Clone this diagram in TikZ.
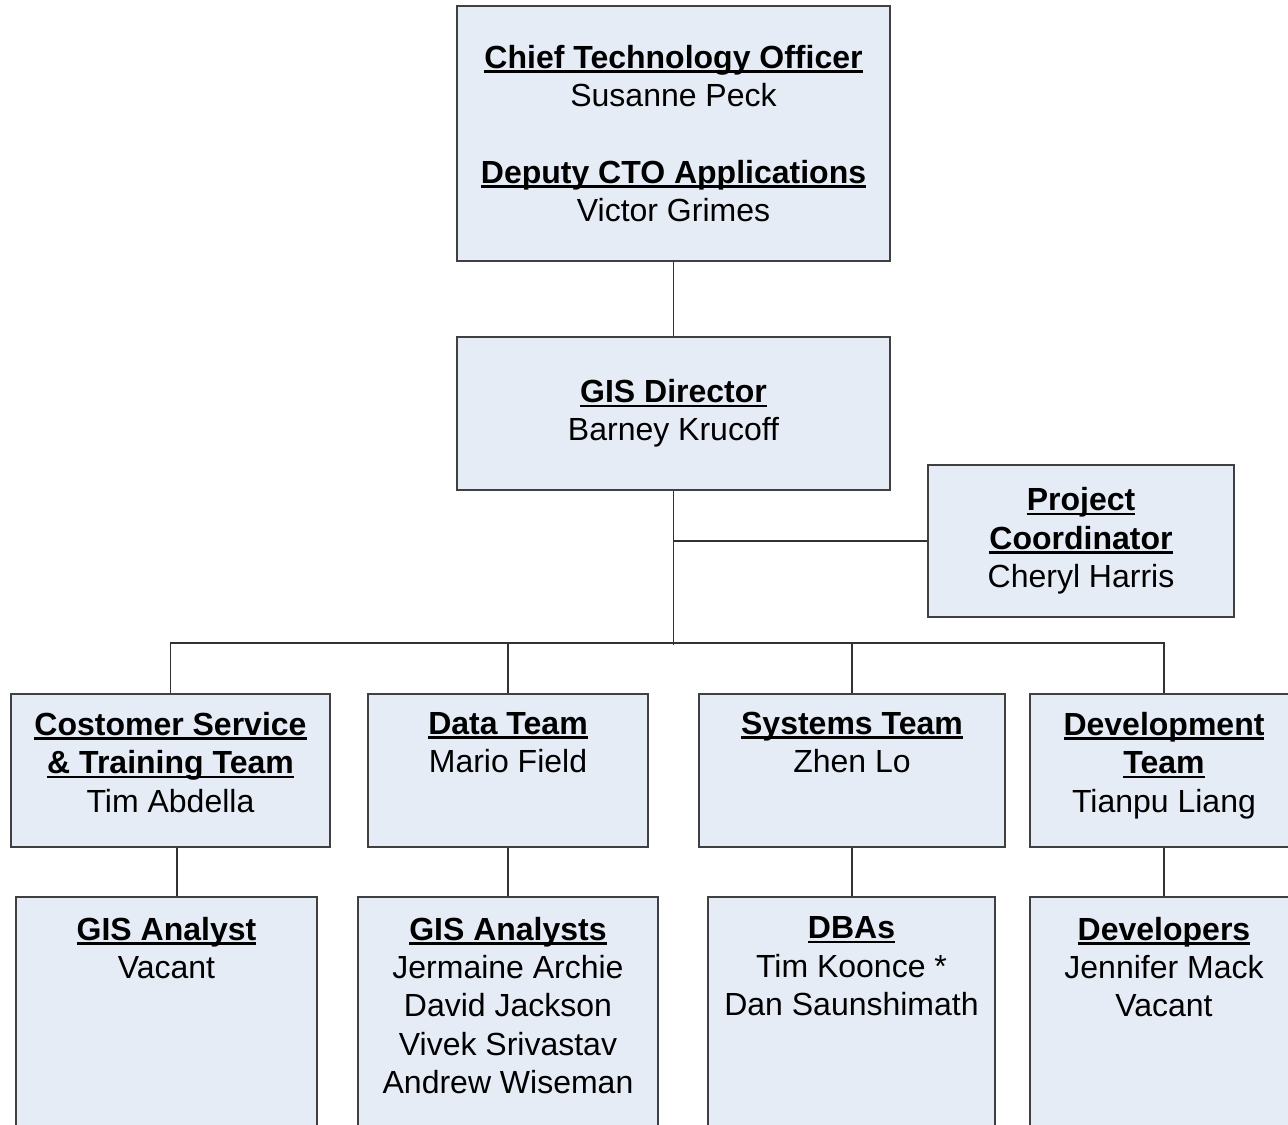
\documentclass[tikz,border=0pt]{standalone}
\usepackage{fontspec}
\setmainfont{Liberation Sans}
\usetikzlibrary{positioning}
\newcommand\titulo[1]{\setbox0\hbox{\bfseries #1}\rlap{\rule[-3.4pt]{\wd0}{1.9pt}}\box0}
\begin{document}
\begin{tikzpicture}[x=0.75pt,y=-0.75pt,
    every node/.style={font=\fontsize{24}{28.8}\selectfont},
    caja/.style={draw=borde, fill=relleno, line width=1pt, align=center, inner sep=0pt},
    texto/.style={align=center, inner sep=0pt, execute at begin node={\rule{0pt}{18pt}}},
    conector/.style={draw=gris, line width=1pt}]
        %colores
        \definecolor{relleno}{RGB}{230,236,246}
        \definecolor{borde}{RGB}{64,64,64}
        \definecolor{gris}{RGB}{50,50,50}

        \clip (0,0) rectangle (1288,1124);

        %arriba
        \node[caja, minimum width=324.75pt, minimum height=191.25pt] (cto) at (673.5,133.5)
            {\titulo{Chief Technology Officer}\\ Susanne Peck\\[28.8pt] \titulo{Deputy CTO Applications}\\ Victor Grimes};
        \node[caja, minimum width=324.75pt, minimum height=114.75pt] (dir) at (673.5,413.5)
            {\titulo{GIS Director}\\ Barney Krucoff};
        \node[caja, minimum width=229.5pt, minimum height=114pt] (pc) at (1081,541)
            {\titulo{Project}\\ \titulo{Coordinator}\\ Cheryl Harris};

        %equipos
        \node[caja, minimum width=239.25pt, minimum height=114.75pt] (cst) at (170.5,770.5) {};
        \node[caja, minimum width=210pt, minimum height=114.75pt] (data) at (508,770.5) {};
        \node[caja, minimum width=229.5pt, minimum height=114.75pt] (sys) at (852,770.5) {};
        \node[caja, minimum width=201pt, minimum height=114.75pt] (dev) at (1164,770.5) {};
        \node[texto, below=13.9pt of cst.north] (cst-t) {\titulo{Costomer Service}\\ \titulo{\& Training Team}\\ Tim Abdella};
        \node[texto, below=13.9pt of data.north] (data-t) {\titulo{Data Team}\\ Mario Field};
        \node[texto, below=13.9pt of sys.north] (sys-t) {\titulo{Systems Team}\\ Zhen Lo};
        \node[texto, below=13.9pt of dev.north] (dev-t) {\titulo{Development}\\ \titulo{Team}\\ Tianpu Liang};

        %abajo
        \node[caja, minimum width=225.75pt, minimum height=189.75pt] (ana) at (166.5,1023.5) {};
        \node[caja, minimum width=225pt, minimum height=189.75pt] (anas) at (508,1023.5) {};
        \node[caja, minimum width=215.25pt, minimum height=189.75pt] (dba) at (851.5,1023.5) {};
        \node[caja, minimum width=201pt, minimum height=189.75pt] (devs) at (1164,1023.5) {};
        \node[texto, below=15.2pt of ana.north] (ana-t) {\titulo{GIS Analyst}\\ Vacant};
        \node[texto, below=15.2pt of anas.north] (anas-t) {\titulo{GIS Analysts}\\ Jermaine Archie\\ David Jackson\\ Vivek Srivastav\\ Andrew Wiseman};
        \node[texto, below=15.2pt of dba.north] (dba-t) {\titulo{DBAs}\\ Tim Koonce *\\ Dan Saunshimath};
        \node[texto, below=15.2pt of devs.north] (devs-t) {\titulo{Developers}\\ Jennifer Mack\\ Vacant};

        %lineas
        \coordinate (bar) at (673.5,643);
        \draw[conector] (cto.south) -- (dir.south |- dir.north);
        \draw[conector] (dir.south) -- ([yshift=-1.5pt]bar);
        \draw[conector] (pc.west) -- (pc.west -| dir.south);
        \draw[conector] (cst.north) |- (bar) -| (dev.north);
        \draw[conector] (data.north) -- (data.north |- bar);
        \draw[conector] (sys.north) -- (sys.north |- bar);
        \draw[conector] ([xshift=4.9pt]cst.south) -- ([xshift=4.9pt]cst.south |- ana.north);
        \draw[conector] (data.south) -- (anas.north);
        \draw[conector] (sys.south) -- (sys.south |- dba.north);
        \draw[conector] (dev.south) -- (devs.north);
    \end{tikzpicture}
\end{document}
